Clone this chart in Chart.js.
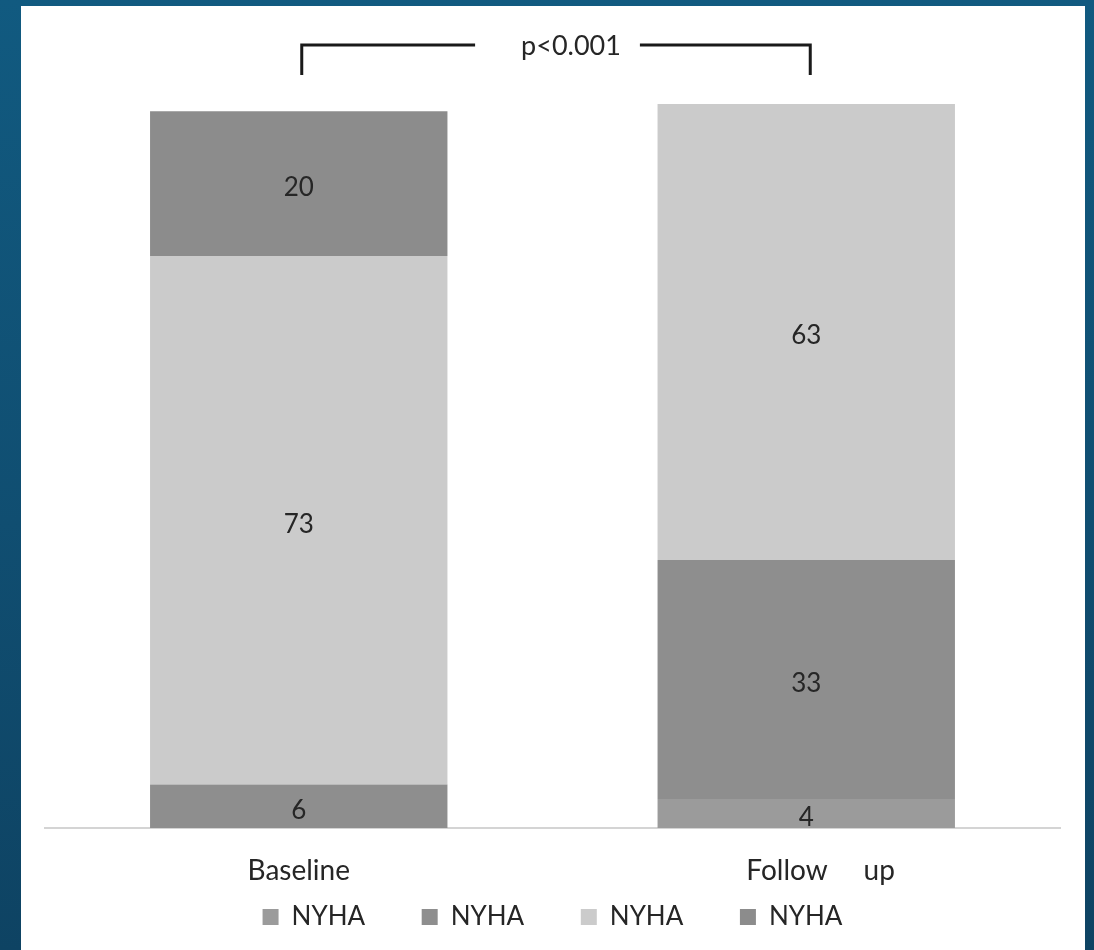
<!DOCTYPE html>
<html>
<head>
<meta charset="utf-8">
<script src="https://cdn.jsdelivr.net/npm/chart.js@4/dist/chart.umd.min.js"></script>
<style>
  html, body { margin: 0; padding: 0; }
  body {
    width: 1094px; height: 950px; overflow: hidden;
    background: linear-gradient(180deg, #115a80 0%, #104e71 55%, #0e4363 100%);
    position: relative;
  }
  #panel {
    position: absolute; left: 21px; top: 6px; width: 1064px; height: 944px;
    background: #ffffff;
  }
  #chart { display: block; }
</style>
</head>
<body>
<div id="panel"><canvas id="chart" width="1064" height="944"></canvas></div>
<script>
// Categories and NYHA class percentages per time point
const categories = ['Baseline', '    Follow     up'];
const seriesNames = ['NYHA', 'NYHA', 'NYHA', 'NYHA'];
const nyha1 = [0, 4];
const nyha2 = [6, 33];
const nyha3 = [73, 63];
const nyha4 = [20, 0];
const pValueText = 'p<0.001';

const colors = ['#9b9b9b', '#8e8e8e', '#cbcbcb', '#8c8c8c'];
const FONT = 'Lato, "Open Sans", "Liberation Sans", sans-serif';

// Value labels centred in each stacked segment
const segmentLabels = {
  id: 'segmentLabels',
  afterDatasetsDraw(chart) {
    const ctx = chart.ctx;
    ctx.save();
    ctx.font = '26px ' + FONT;
    ctx.fillStyle = '#262626';
    ctx.textAlign = 'center';
    ctx.textBaseline = 'middle';
    chart.data.datasets.forEach((ds, i) => {
      const meta = chart.getDatasetMeta(i);
      meta.data.forEach((bar, j) => {
        const v = ds.data[j];
        if (!v) return;
        const p = bar.getCenterPoint();
        ctx.fillText(String(v), p.x, p.y + 4);
      });
    });
    ctx.restore();
  }
};

// Significance bracket spanning both time points
const bracket = {
  id: 'bracket',
  afterDraw(chart) {
    const ctx = chart.ctx;
    const xs = chart.scales.x;
    const top = chart.chartArea.top;
    const x0 = xs.getPixelForValue(0) + 3;
    const x1 = xs.getPixelForValue(1) + 4;
    const yH = top - 59;
    const yV = top - 29;
    const mid = (x0 + x1) / 2 + 15;
    ctx.save();
    ctx.font = '27px ' + FONT;
    const w = ctx.measureText(pValueText).width;
    ctx.strokeStyle = '#1a1a1a';
    ctx.lineWidth = 3;
    ctx.lineCap = 'butt';
    ctx.beginPath();
    ctx.moveTo(x0, yV);
    ctx.lineTo(x0, yH);
    ctx.lineTo(mid - w / 2 - 46, yH);
    ctx.moveTo(mid + w / 2 + 19, yH);
    ctx.lineTo(x1, yH);
    ctx.lineTo(x1, yV);
    ctx.stroke();
    ctx.fillStyle = '#262626';
    ctx.textAlign = 'center';
    ctx.textBaseline = 'middle';
    ctx.fillText(pValueText, mid, yH + 1);
    ctx.restore();
  }
};

const data = {
  labels: categories,
  datasets: [nyha1, nyha2, nyha3, nyha4].map((vals, i) => ({
    label: seriesNames[i],
    data: vals,
    backgroundColor: colors[i],
    borderWidth: 0,
    categoryPercentage: 1,
    barPercentage: 0.586
  }))
};

new Chart(document.getElementById('chart'), {
  type: 'bar',
  data,
  options: {
    responsive: false,
    animation: false,
    layout: { padding: { left: 24, right: 25, top: 98, bottom: 10 } },
    scales: {
      x: {
        stacked: true,
        grid: { display: false, drawTicks: false },
        border: { display: true, color: '#d4d4d4', width: 2 },
        ticks: { font: { size: 28, family: FONT }, color: '#262626', padding: 26 },
        // keep the legend close under the category labels
        afterFit(scale) { scale.height = 66; }
      },
      y: {
        stacked: true, min: 0, max: 100, display: false
      }
    },
    plugins: {
      legend: {
        position: 'bottom',
        labels: {
          boxWidth: 16, boxHeight: 16,
          font: { size: 26, family: FONT },
          color: '#262626',
          padding: 10,
          // spacing between entries comes from trailing blanks
          generateLabels(chart) {
            const items = Chart.defaults.plugins.legend.labels.generateLabels(chart);
            items.forEach((it, i) => {
              if (i < items.length - 1) it.text = it.text + '       ';
            });
            return items;
          }
        }
      },
      tooltip: { enabled: false }
    }
  },
  plugins: [segmentLabels, bracket]
});
</script>
</body>
</html>
